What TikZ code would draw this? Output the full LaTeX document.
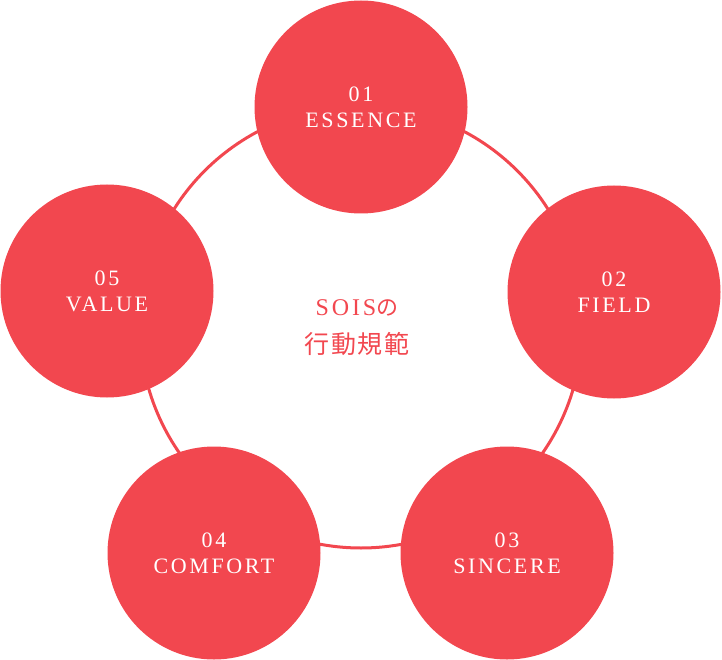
\documentclass[tikz,border=0pt]{standalone}
\usepackage{fontspec}
\usepackage{tikz}
\setmainfont{Liberation Serif}
\newfontfamily\labelfont[LetterSpace=12]{Liberation Serif}
\newfontfamily\kanjifont[LetterSpace=6]{Noto Sans CJK JP}
\definecolor{soisred}{HTML}{F2474F}

\begin{document}
\begin{tikzpicture}[
  x=1pt, y=-1pt,
  ring/.style={draw=soisred, line width=3pt, circle, minimum size=442pt, inner sep=0pt},
  value/.style={circle, fill=soisred, minimum size=213pt, inner sep=0pt, align=center, text=white, font=\labelfont\fontsize{22}{26}\selectfont},
  core/.style={align=center, text=soisred, font=\labelfont\fontsize{24}{38}\selectfont}
]
\useasboundingbox (0,0) rectangle (722,660);

\node[ring] (ring) at (361,327) {};

\node[value] (essence) at (361,107) {01\\ESSENCE};
\node[value] (field) at (614,292) {02\\FIELD};
\node[value] (sincere) at (507,553) {03\\SINCERE};
\node[value] (comfort) at (214,553) {04\\COMFORT};
\node[value] (valuec) at (107,291) {05\\VALUE};

\node[core] (title) at (357,328) {SOIS{\kanjifont\fontsize{22}{38}\selectfont の}\\{\kanjifont\fontsize{25}{38}\selectfont 行動規範}};
\end{tikzpicture}
\end{document}
